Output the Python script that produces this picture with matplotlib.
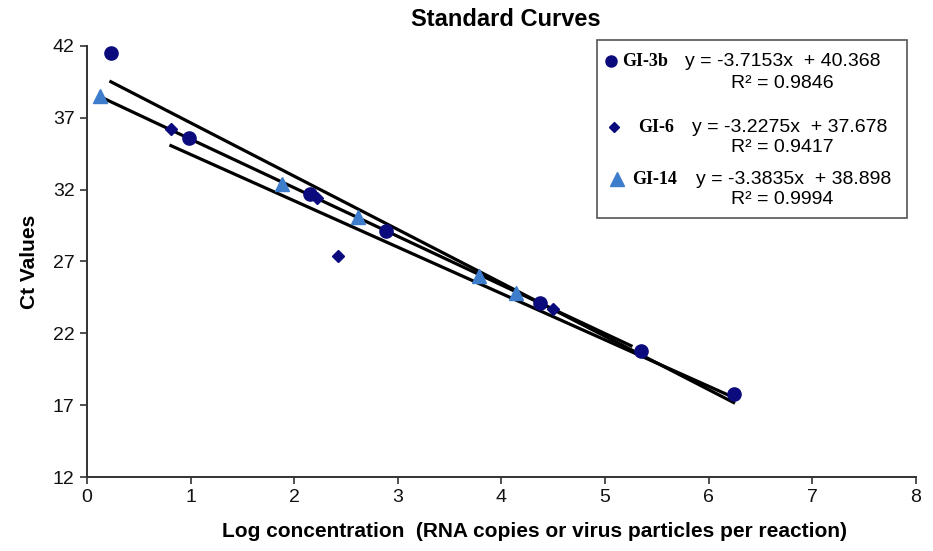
import matplotlib
matplotlib.use("Agg")
from matplotlib import pyplot as plt
from matplotlib.patches import Rectangle
from matplotlib.lines import Line2D
import numpy as np

# data
gi3b_x = [0.23, 0.98, 2.15, 2.89, 4.37, 5.35, 6.24]
gi3b_y = [41.5, 35.6, 31.7, 29.1, 24.1, 20.8, 17.8]

gi6_x = [0.81, 2.22, 2.42, 4.50]
gi6_y = [36.2, 31.4, 27.4, 23.7]

gi14_x = [0.13, 1.88, 2.62, 3.78, 4.14]
gi14_y = [38.5, 32.4, 30.1, 26.0, 24.8]

# trend lines: slope, intercept, x range
names = ["GI-3b", "GI-6", "GI-14"]
slopes = [-3.7153, -3.2275, -3.3835]
intercepts = [40.368, 37.678, 38.898]
r2 = [0.9846, 0.9417, 0.9994]
fit_start = [0.23, 0.81, 0.13]
fit_end = [6.24, 6.24, 5.25]

navy = "#0b0b7d"
light = "#3d7dcc"
sans = "Liberation Sans"
serif = "Liberation Serif"

fig = plt.figure(figsize=(9.33, 5.51), dpi=100)
ax = fig.add_axes([87 / 933, 1 - 477 / 551, (916 - 87) / 933, (477 - 46) / 551])

for i in range(3):
    xs = np.array([fit_start[i], fit_end[i]])
    ax.plot(xs, slopes[i] * xs + intercepts[i], color="black", lw=2.3, zorder=2)

ax.plot(gi3b_x, gi3b_y, "o", color=navy, ms=9.5, zorder=4)
ax.plot(gi6_x, gi6_y, "D", color=navy, ms=6.5, zorder=4)
ax.plot(gi14_x, gi14_y, "^", color=light, ms=10, zorder=3)

ax.set_xlim(0, 8)
ax.set_ylim(12, 42)
ax.set_xticks(range(0, 9))
ax.set_yticks(range(12, 43, 5))
for s in ["top", "right"]:
    ax.spines[s].set_visible(False)
for s in ["left", "bottom"]:
    ax.spines[s].set_color("#333333")
    ax.spines[s].set_linewidth(1.4)
ax.tick_params(direction="out", length=5, width=1.2, color="#333333",
               labelsize=14, labelcolor="#111111", pad=4)
for lab in ax.get_xticklabels() + ax.get_yticklabels():
    lab.set_fontfamily(sans)

ax.set_xlabel("Log concentration  (RNA copies or virus particles per reaction)",
              fontsize=15, fontweight="bold", family=sans)
ax.xaxis.set_label_coords(0.54, -0.105)
ax.set_ylabel("Ct Values", fontsize=15, fontweight="bold", family=sans)
ax.yaxis.set_label_coords(-0.058, 0.5)
fig.text(506 / 933, 1 - 20 / 551, "Standard Curves", fontsize=17, fontweight="bold",
         family=sans, ha="center", va="center")

# legend box drawn by hand (pixel coords converted to figure fraction)
W, H = 933, 551
fig.patches.append(Rectangle((597 / W, 1 - 218 / H), (907 - 597) / W, (218 - 40) / H,
                             transform=fig.transFigure, facecolor="white",
                             edgecolor="#555555", lw=1.2, zorder=5))
markers = [("o", navy, 8), ("D", navy, 5), ("^", light, 10)]
rows_y = [61, 127, 179]
r2_y = [84, 147, 200]
mark_x = [611, 614, 617]
name_x = [622, 638, 632]
eq_x = [685, 692, 696]
for i in range(3):
    m, c, ms = markers[i]
    fig.add_artist(Line2D([mark_x[i] / W], [1 - rows_y[i] / H], marker=m, color=c,
                          ms=ms, transform=fig.transFigure, zorder=6))
    fig.text(name_x[i] / W, 1 - rows_y[i] / H, names[i], family=serif,
             fontweight="bold", fontsize=13, va="center", zorder=6)
    fig.text(eq_x[i] / W, 1 - rows_y[i] / H,
             "y = %.4fx  + %.3f" % (slopes[i], intercepts[i]),
             family=sans, fontsize=14, va="center", zorder=6)
    fig.text(782 / W, 1 - r2_y[i] / H, "R² = %.4f" % r2[i],
             family=sans, fontsize=14, va="center", ha="center", zorder=6)

fig.savefig("out.png", dpi=100)
